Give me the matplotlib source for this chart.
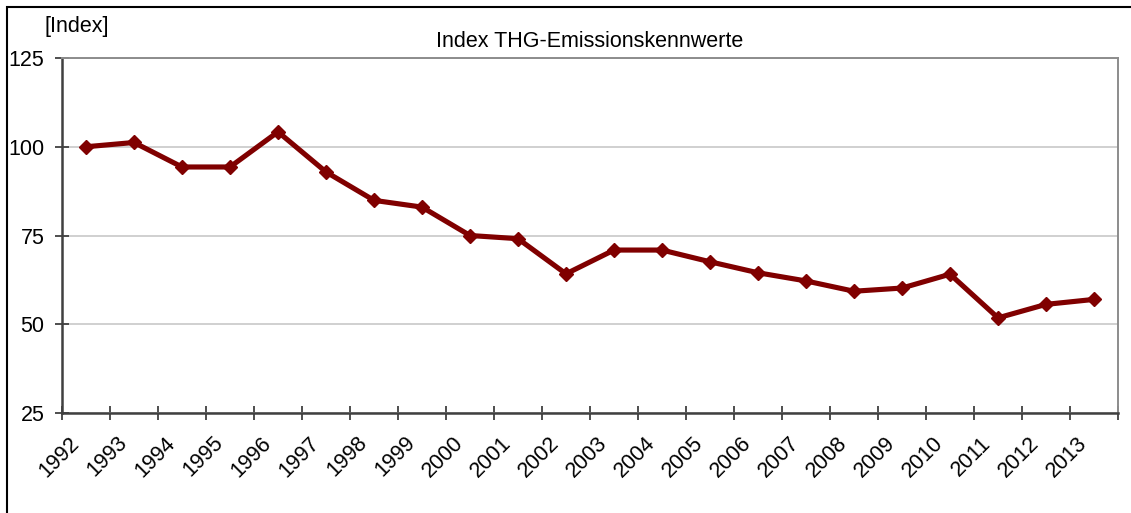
import numpy as np
import matplotlib.pyplot as plt
from matplotlib.patches import Rectangle
from matplotlib.transforms import ScaledTranslation

plt.rcParams['font.family'] = ['Liberation Sans', 'DejaVu Sans']

# Indexwerte der THG-Emissionskennwerte (1992 = 100)
years = [str(y) for y in range(1992, 2014)]
index_values = [100.0, 101.2, 94.3, 94.3, 104.2, 92.9, 84.9, 83.0, 75.0, 74.1, 64.2,
                70.9, 70.9, 67.6, 64.5, 62.2, 59.3, 60.2, 64.1, 51.8, 55.6, 57.0]
y_ticks = [25, 50, 75, 100, 125]

W, H = 1131, 513
fig = plt.figure(figsize=(W / 100, H / 100), dpi=100)
ax = fig.add_axes([62 / W, 1 - 413 / H, (1118 - 62) / W, (413 - 58) / H])

x = np.arange(len(years))
ax.plot(x, index_values, color='#800000', linewidth=3.7, marker='D',
        markersize=7.5, markerfacecolor='#800000', markeredgecolor='#800000',
        zorder=3, clip_on=False)

# Achsen
ax.set_xlim(-0.5, len(years) - 0.5)
ax.set_ylim(25, 125)
ax.set_yticks(y_ticks)
ax.set_yticklabels([str(v) for v in y_ticks], fontsize=15.5)
ax.yaxis.grid(True, color='#c8c8c8', linewidth=1.2)
ax.set_axisbelow(True)

# Kategorienachse: Striche zwischen den Jahren, Beschriftung schräg darunter
ax.set_xticks(np.arange(len(years) + 1) - 0.5)
ax.set_xticklabels([])
ax.tick_params(axis='x', direction='inout', length=9.5, width=1.3,
               color='#404040')
ax.tick_params(axis='y', direction='inout', length=9.5, width=1.3,
               color='#404040', pad=8)

label_trans = ax.get_xaxis_transform() + ScaledTranslation(
    -10 / 100, -27 / 100, fig.dpi_scale_trans)
for xi, year in zip(x, years):
    ax.text(xi, 0, year, transform=label_trans, fontsize=15.5, rotation=45,
            ha='right', va='center', rotation_mode='anchor')

for side in ('left', 'bottom'):
    ax.spines[side].set_color('#404040')
    ax.spines[side].set_linewidth(1.8)
for side in ('top', 'right'):
    ax.spines[side].set_color('#8c8c8c')
    ax.spines[side].set_linewidth(1.4)

ax.set_title('Index THG-Emissionskennwerte', fontsize=15.5, pad=8)
fig.text(44 / W, 1 - 27 / H, '[Index]', fontsize=15.5, ha='left', va='center')

# Rahmen um das Diagramm
fig.patches.append(Rectangle((7 / W, -0.1), 1.2, 1 - 7 / H + 0.1,
                             transform=fig.transFigure, fill=False,
                             edgecolor='black', linewidth=1.5))

fig.savefig('out.png', dpi=100)
